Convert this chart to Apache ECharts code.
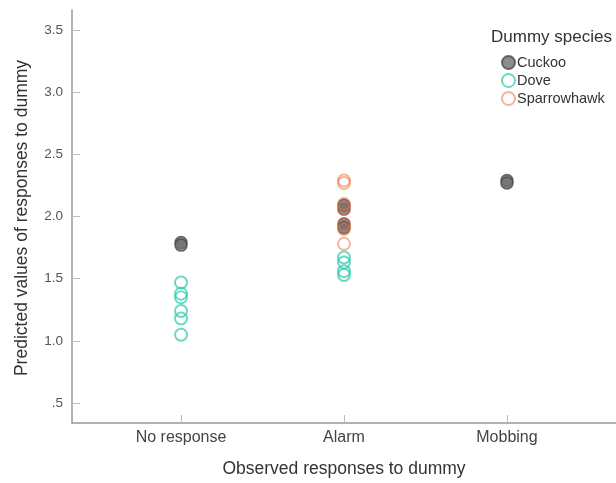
<!DOCTYPE html>
<html>
<head>
<meta charset="utf-8">
<script src="https://cdn.jsdelivr.net/npm/echarts@6/dist/echarts.min.js"></script>
<style>html,body{margin:0;padding:0;background:#fff}#c{width:616px;height:483px}</style>
</head>
<body>
<div id="c"></div>
<script>
const categories = ["No response", "Alarm", "Mobbing"];
const yTicks = [0.5, 1.0, 1.5, 2.0, 2.5, 3.0, 3.5];
// [category index (1-based), predicted value]
const cuckooCat = [1, 1, 2, 2, 2, 2, 3, 3];
const cuckooVal = [1.79, 1.77, 2.09, 2.06, 1.94, 1.91, 2.29, 2.27];
const doveCat = [1, 1, 1, 1, 1, 1, 2, 2, 2, 2];
const doveVal = [1.47, 1.38, 1.35, 1.24, 1.18, 1.05, 1.67, 1.63, 1.56, 1.53];
const hawkCat = [2, 2, 2, 2, 2, 2, 2];
const hawkVal = [2.29, 2.27, 2.10, 2.06, 1.94, 1.90, 1.78];

const pair = (c, v) => c.map((x, i) => [x, v[i]]);
const font = 'Liberation Sans, Arial, sans-serif';

const chart = echarts.init(document.getElementById('c'));
chart.setOption({
  animation: false,
  textStyle: { fontFamily: font },
  grid: { left: 72, right: 0, top: 10, bottom: 58 },
  title: {
    text: 'Dummy species', left: 486, top: 24,
    textStyle: { fontSize: 17, fontWeight: 'normal', color: '#333', fontFamily: font }
  },
  legend: {
    orient: 'vertical', left: 496, top: 50, itemGap: 3,
    itemWidth: 13, itemHeight: 13,
    textStyle: { fontSize: 14.5, lineHeight: 15, color: '#333', padding: [0, 0, 0, -3] },
    data: ['Cuckoo', 'Dove', 'Sparrowhawk']
  },
  graphic: [{
    type: 'text', x: 22, y: 218, rotation: Math.PI / 2,
    style: {
      text: 'Predicted values of responses to dummy', fontSize: 17.5, fontFamily: font,
      fill: '#333', align: 'center', verticalAlign: 'middle'
    }
  }],
  xAxis: {
    type: 'value', min: 0.331, max: 3.669,
    name: 'Observed responses to dummy', nameLocation: 'middle', nameGap: 37,
    nameTextStyle: { fontSize: 17.5, color: '#333' },
    splitLine: { show: false },
    axisLine: { show: true, lineStyle: { color: '#999', width: 1.5 } },
    axisTick: { show: true, inside: true, length: 8, customValues: [1, 2, 3], lineStyle: { color: '#bbb' } },
    axisLabel: {
      customValues: [1, 2, 3], fontSize: 16, color: '#444', margin: 7,
      formatter: v => categories[Math.round(v) - 1] || ''
    }
  },
  yAxis: {
    type: 'value', min: 0.34, max: 3.66,
    splitLine: { show: false },
    axisLine: { show: true, lineStyle: { color: '#999', width: 1.5 } },
    axisTick: { show: true, inside: true, length: 8, customValues: yTicks, lineStyle: { color: '#bbb' } },
    axisLabel: {
      customValues: yTicks, fontSize: 13.5, color: '#555', margin: 9,
      formatter: v => (Math.abs(v - 0.5) < 1e-6 ? '.5' : v.toFixed(1))
    }
  },
  series: [
    {
      name: 'Cuckoo', type: 'scatter', symbolSize: 12, z: 2,
      itemStyle: { color: '#707070', borderColor: '#4a4a4a', borderWidth: 1.5 },
      data: pair(cuckooCat, cuckooVal)
    },
    {
      name: 'Dove', type: 'scatter', symbolSize: 12, z: 3,
      itemStyle: { color: 'rgba(255,255,255,0)', borderColor: 'rgba(40,200,170,0.85)', borderWidth: 2 },
      data: pair(doveCat, doveVal)
    },
    {
      name: 'Sparrowhawk', type: 'scatter', symbolSize: 12, z: 4,
      itemStyle: { color: 'rgba(255,255,255,0)', borderColor: 'rgba(236,110,60,0.65)', borderWidth: 2 },
      data: pair(hawkCat, hawkVal)
    }
  ]
});
</script>
</body>
</html>
